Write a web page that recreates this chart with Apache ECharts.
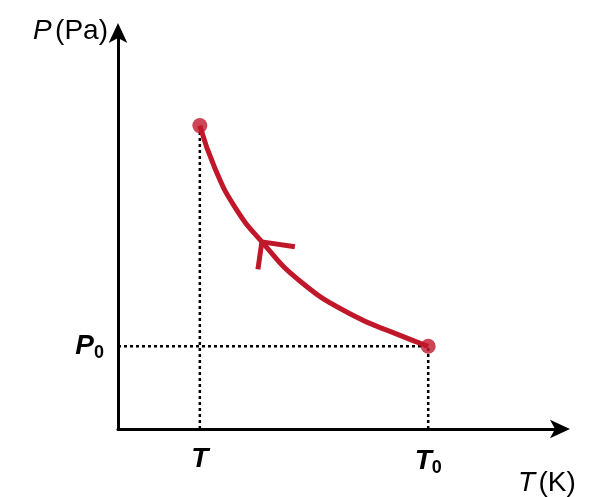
<!DOCTYPE html>
<html><head><meta charset="utf-8">
<script src="https://cdn.jsdelivr.net/npm/echarts@6/dist/echarts.min.js"></script>
<style>html,body{margin:0;padding:0;background:#fff}#c{width:608px;height:497px}</style>
</head><body><div id="c"></div>
<script>
const curveX = [18.6, 22.0, 26.6, 32.7, 41.4, 52.7, 64.1, 70.5];
const curveY = [77, 66.25, 56.25, 47.5, 37.5, 29.25, 23.75, 21];
const arrowX = [40.2, 32.7, 31.8];
const arrowY = [46.25, 47.5, 40.5];
const xTicks = [18.6, 70.5];
const yTicks = [21];
const xTickLabels = ['T', 'T0'];
const yTickLabels = ['P0'];

const chart = echarts.init(document.getElementById('c'));
const font = 'Liberation Sans, Arial, sans-serif';
const rich = {
  b: {fontFamily: font, fontSize: 28, fontWeight: 'bold', fontStyle: 'italic', color: '#000'},
  s: {fontFamily: font, fontSize: 18, fontWeight: 'bold', color: '#000', padding: [14, 0, 0, 0]},
  i: {fontFamily: font, fontSize: 28, fontStyle: 'italic', color: '#000'},
  n: {fontFamily: font, fontSize: 28, color: '#000'}
};
function fmt(l) { return l.length > 1 ? '{b|' + l[0] + '}{s|' + l.slice(1) + '}' : '{b|' + l + '}'; }
const line = (pts, style) => ({type: 'line', data: pts, symbol: 'none', silent: true, lineStyle: style, z: 1});
chart.setOption({
  animation: false,
  grid: {left: 118, right: 50, top: 35, bottom: 62},
  xAxis: {
    type: 'value', min: 0, max: 100,
    axisLine: {lineStyle: {color: '#000', width: 3}, symbol: ['none', 'arrow'], symbolSize: [14, 20], symbolOffset: [0, 12]},
    axisTick: {show: false}, splitLine: {show: false},
    axisLabel: {customValues: xTicks, margin: 16, formatter: v => fmt(xTickLabels[xTicks.indexOf(v)]), rich},
    name: '{i|T} {n|(K)}', nameLocation: 'end', nameGap: -40,
    nameTextStyle: {rich, verticalAlign: 'top', padding: [40, 0, 0, 0]}
  },
  yAxis: {
    type: 'value', min: 0, max: 100,
    axisLine: {lineStyle: {color: '#000', width: 3}, symbol: ['none', 'arrow'], symbolSize: [14, 20], symbolOffset: [0, 12]},
    axisTick: {show: false}, splitLine: {show: false},
    axisLabel: {customValues: yTicks, margin: 14, formatter: v => fmt(yTickLabels[yTicks.indexOf(v)]), rich},
    name: '{i|P} {n|(Pa)}', nameLocation: 'end', nameGap: 0,
    nameTextStyle: {rich, align: 'right', padding: [0, 10, -10, 0]}
  },
  series: [
    line([[xTicks[0], 0], [xTicks[0], curveY[0]]], {color: '#000', width: 2.5, type: [3, 3]}),
    line([[0, yTicks[0]], [xTicks[1], yTicks[0]]], {color: '#000', width: 2.5, type: [3, 3]}),
    line([[xTicks[1], 0], [xTicks[1], yTicks[0]]], {color: '#000', width: 2.5, type: [3, 3]}),
    {type: 'line', smooth: true, data: curveX.map((x, i) => [x, curveY[i]]), symbol: 'none', lineStyle: {color: '#c0182a', width: 5}, z: 3},
    line(arrowX.map((x, i) => [x, arrowY[i]]), {color: '#c0182a', width: 5}),
    {type: 'scatter', data: [[curveX[0], curveY[0]], [curveX[7], curveY[7]]], symbolSize: 15, itemStyle: {color: '#c0182a'}, z: 4}
  ]
});
</script></body></html>
